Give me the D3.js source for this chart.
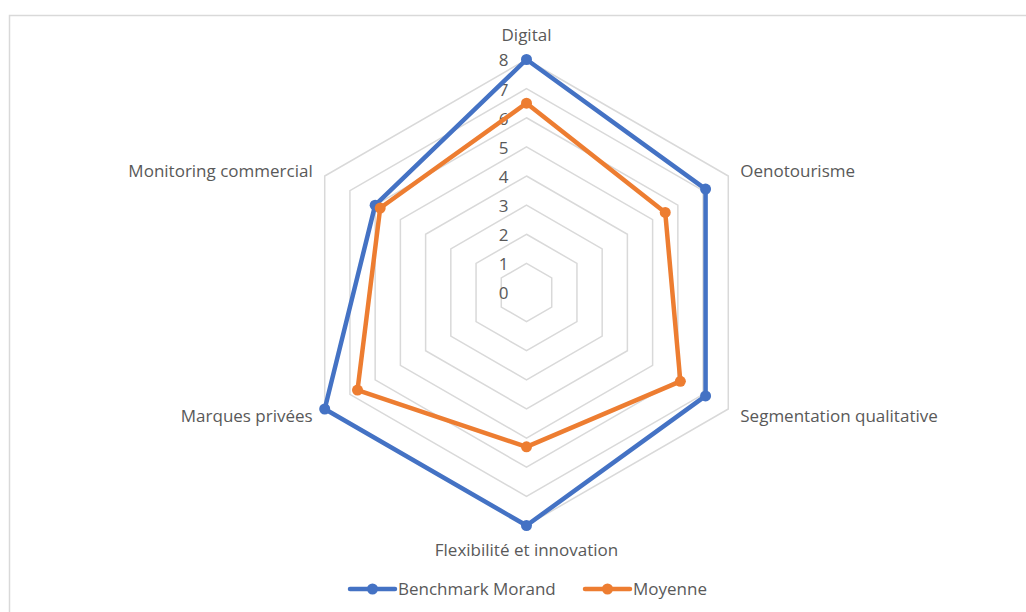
<!DOCTYPE html>
<html><head><meta charset="utf-8">
<script src="https://cdn.jsdelivr.net/npm/d3@7"></script>
<style>
html,body{margin:0;padding:0;background:#fff;}
svg{display:block;}
text{font-family:"Open Sans","Liberation Sans",sans-serif;fill:#595959;}
</style></head>
<body>
<svg id="c" width="1026" height="612"></svg>
<script>
const categories = ["Digital","Oenotourisme","Segmentation qualitative","Flexibilité et innovation","Marques privées","Monitoring commercial"];
const seriesNames = ["Benchmark Morand","Moyenne"];
const benchmark = [8, 7.1, 7.1, 8, 8, 6];
const moyenne = [6.5, 5.5, 6.1, 5.3, 6.7, 5.8];
const tickLabels = [0,1,2,3,4,5,6,7,8];
const colors = ["#4472C4","#ED7D31"];

const svg = d3.select("#c");
const W = 1026, H = 612;
svg.append("rect").attr("x",9.5).attr("y",15.5).attr("width",W+10).attr("height",H+10)
  .attr("fill","#fff").attr("stroke","#d9d9d9").attr("stroke-width",1.5);

const cx = 526.5, cy = 292.5, R = 233;
const r = d3.scaleLinear().domain([0,8]).range([0,R]);
const ang = d3.scaleLinear().domain([0,categories.length]).range([0,2*Math.PI]);
const pt = (i,v)=>[cx + r(v)*Math.sin(ang(i)), cy - r(v)*Math.cos(ang(i))];

const g = svg.append("g");
tickLabels.forEach(t=>{
  if(t===0) return;
  const pts = categories.map((c,i)=>pt(i,t));
  g.append("path").attr("d", d3.line()(pts)+"Z")
   .attr("fill","none").attr("stroke","#d9d9d9").attr("stroke-width",1.5);
});
tickLabels.forEach(t=>{
  g.append("text").attr("x",cx-18).attr("y",cy - r(t)+1).attr("dy","0.35em")
   .attr("text-anchor","end").attr("font-size",17).text(t);
});
categories.forEach((c,i)=>{
  const [x,y] = pt(i,8);
  let anchor="middle", dx=0, dy=0;
  if(i===0){dy=-24;}
  else if(i===3){dy=25;}
  else if(i===1){anchor="start"; dx=12; dy=-5;}
  else if(i===2){anchor="start"; dx=12; dy=7;}
  else if(i===4){anchor="end"; dx=-12; dy=7;}
  else if(i===5){anchor="end"; dx=-12; dy=-5;}
  g.append("text").attr("x",x+dx).attr("y",y+dy).attr("dy","0.35em")
   .attr("text-anchor",anchor).attr("font-size",17).text(c);
});
[benchmark, moyenne].forEach((vals,s)=>{
  const pts = vals.map((v,i)=>pt(i,v));
  g.append("path").attr("d", d3.line()(pts)+"Z")
   .attr("fill","none").attr("stroke",colors[s]).attr("stroke-width",4.5).attr("stroke-linejoin","round");
  g.selectAll(null).data(pts).enter().append("circle")
   .attr("cx",d=>d[0]).attr("cy",d=>d[1]).attr("r",5.5).attr("fill",colors[s]);
});
const leg = [{x:350,name:seriesNames[0],c:colors[0]},{x:585,name:seriesNames[1],c:colors[1]}];
leg.forEach(l=>{
  const ly = 589;
  svg.append("line").attr("x1",l.x).attr("x2",l.x+45).attr("y1",ly).attr("y2",ly)
    .attr("stroke",l.c).attr("stroke-width",4.5).attr("stroke-linecap","round");
  svg.append("circle").attr("cx",l.x+22.5).attr("cy",ly).attr("r",5.5).attr("fill",l.c);
  svg.append("text").attr("x",l.x+48).attr("y",ly).attr("dy","0.35em").attr("font-size",17).text(l.name);
});
</script>
</body></html>
